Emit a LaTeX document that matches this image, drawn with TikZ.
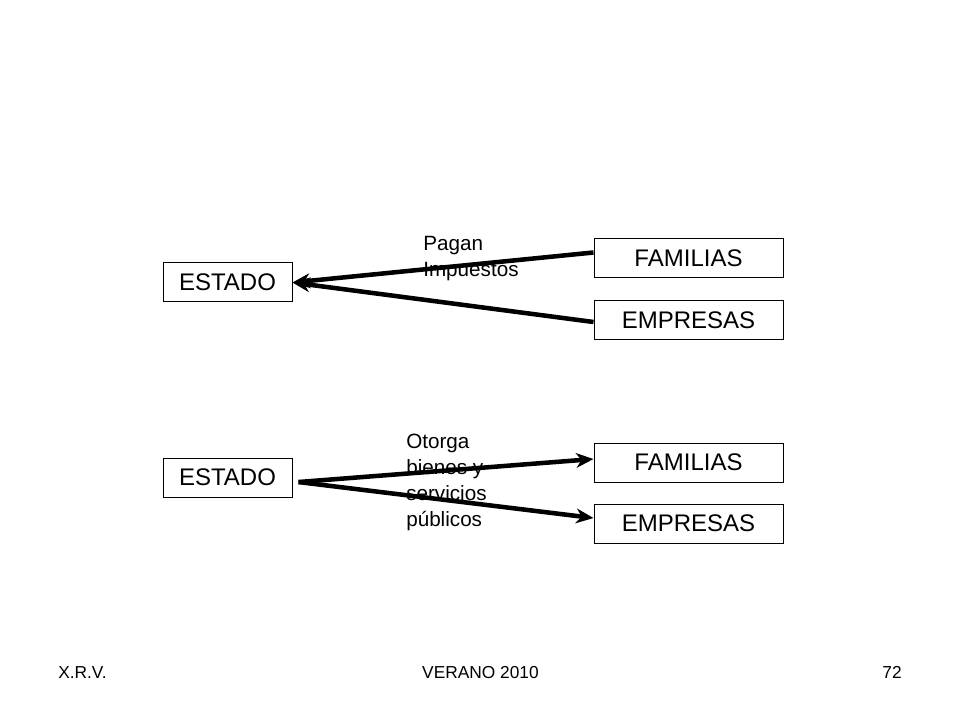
\documentclass[tikz,border=0pt]{standalone}
\usepackage{fontspec}
\setmainfont{Liberation Sans}
\usetikzlibrary{arrows.meta}

\begin{document}
\begin{tikzpicture}
[x=0.75pt,y=-0.75pt,
  onearrow/.style = {-{Stealth[length=13pt,width=11pt,inset=4pt]},line width=3.4pt},
  r/.style = {rectangle,draw,line width=0.75pt,inner sep=0pt,
        minimum height=29.25pt,font=\fontsize{18}{20}\selectfont},
  rs/.style = {r,minimum width=96.75pt},
  rl/.style = {r,minimum width=141.75pt},
  lbl/.style = {inner sep=0pt,align=left,anchor=north west},
  foot/.style = {inner sep=0pt,font=\fontsize{13}{15}\selectfont}]
\useasboundingbox[fill=white] (0,0) rectangle (960,720);

% pagan impuestos
\node[rs] (EST1) at (227.5,282.5) {ESTADO};
\node[rl] (FAM1) at (688.5,258.5) {FAMILIAS};
\node[rl] (EMP1) at (688.5,320) {EMPRESAS};
\node[lbl,font=\fontsize{15.5}{19.5}\selectfont] (PAG) at (423,236) {Pagan\\Impuestos};

% otorga bienes
\node[rs] (EST2) at (227.5,477.5) {ESTADO};
\node[rl] (FAM2) at (688.5,462.5) {FAMILIAS};
\node[rl] (EMP2) at (688.5,523.5) {EMPRESAS};
\node[lbl,font=\fontsize{15.5}{19.5}\selectfont] (OTO) at (406,434) {Otorga\\bienes y\\servicios\\públicos};

% pie
\node[foot,anchor=base west] (XRV) at (58,678) {X.R.V.};
\node[foot,anchor=base] (VER) at (480.5,678) {VERANO 2010};
\node[foot,anchor=base east] (NUM) at (902,678) {72};
%
   \path[onearrow] ([yshift=4.5pt]FAM1.west) edge (EST1.east) ;
   \path[onearrow] ([yshift=-1.5pt]EMP1.west) edge (EST1.east) ;
   \path[onearrow] ([xshift=4.5pt,yshift=-3.4pt]EST2.east) edge ([yshift=2.6pt]FAM2.west) ;
   \path[onearrow] ([xshift=4.5pt,yshift=-3.4pt]EST2.east) edge ([yshift=4.1pt]EMP2.west) ;
\end{tikzpicture}
\end{document}
